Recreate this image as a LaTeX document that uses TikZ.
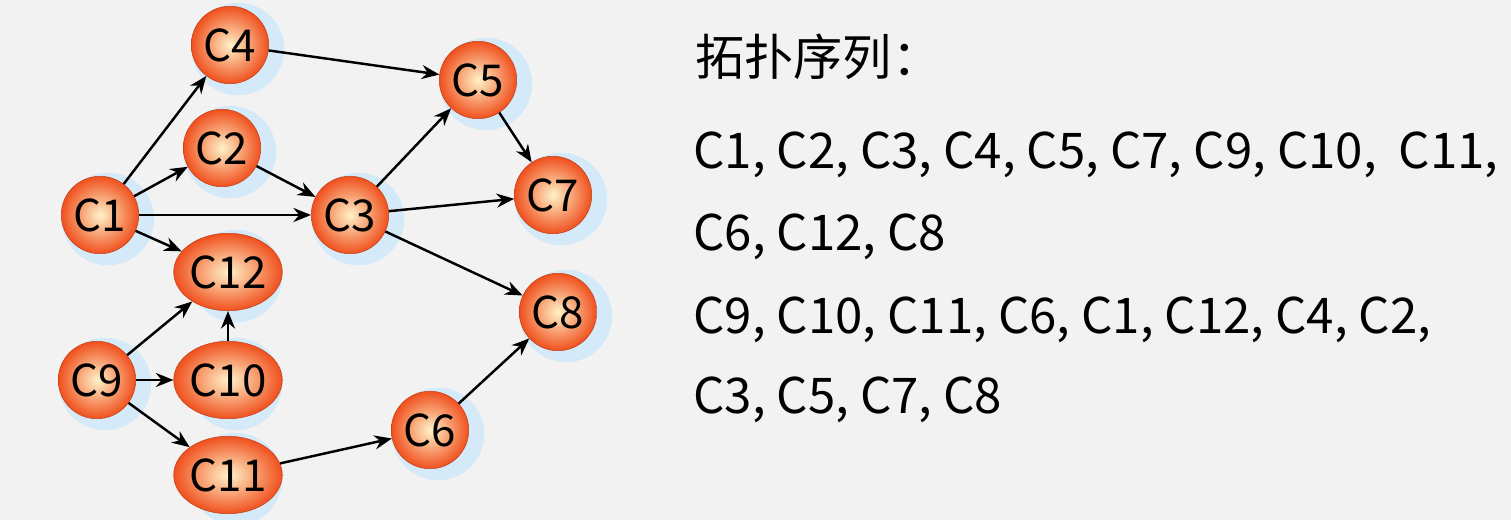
\documentclass[tikz,border=0pt]{standalone}
\usepackage{fontspec}
\setmainfont{Noto Sans CJK SC}
\usetikzlibrary{arrows.meta,shapes.geometric}
\definecolor{bg}{HTML}{F2F2F2}
\definecolor{glow}{HTML}{D4EAF8}
\definecolor{outer}{HTML}{F0501E}
\definecolor{inner}{HTML}{FFF2C8}
\tikzset{
  cnode/.style={ellipse,inner sep=0pt,minimum width=1.55cm,minimum height=1.55cm,inner color=inner,outer color=outer,
    draw=outer!80!black,line width=0.3pt,font=\fontsize{25}{25}\selectfont},
  glowc/.style={circle,fill=glow,minimum size=1.85cm,inner sep=0pt},
  edge/.style={-{Stealth[length=10pt,width=8pt]},line width=1.4pt,black},
  seq/.style={anchor=west,font=\fontsize{28}{28}\selectfont,inner sep=0pt}
}
\begin{document}
\begin{tikzpicture}[x=0.02cm,y=-0.02cm]
\fill[bg] (0,0) rectangle (1511,520);
\useasboundingbox (0,0) rectangle (1511,520);
\foreach \n/\x/\y in {C4/230/45,C5/478/80,C2/222/148,C1/100/215,C3/350/215,C7/553/195,C12/228/272,C8/558/312,C9/97/380,C10/228/380,C11/228/475,C6/430/430}{
  \node[glowc] at (\x+8,\y+4) {};
}
\foreach \n/\x/\y/\w in {C4/230/45/1.55,C5/478/80/1.55,C2/222/148/1.55,C1/100/215/1.55,C3/350/215/1.55,C7/553/195/1.55,C12/228/272/1.72,C8/558/312/1.55,C9/97/380/1.55,C10/228/380/1.7,C11/228/475/1.7,C6/430/430/1.55}{
  \node[cnode,minimum width=\w cm] (\n) at (\x,\y) {\n};
}
\foreach \a/\b in {C1/C4,C1/C2,C1/C3,C1/C12,C4/C5,C2/C3,C3/C5,C3/C7,C3/C8,C5/C7,C9/C12,C9/C10,C9/C11,C10/C12,C11/C6,C6/C8}{
  \draw[edge] (\a) -- (\b);
}
\node[seq] (t) at (695,57) {拓扑序列：};
\node[seq] (l1) at (693,155) {C1, C2, C3, C4, C5, C7, C9, C10,\ \ C11,};
\node[seq] (l2) at (693,237) {C6, C12, C8};
\node[seq] (l3) at (693,320) {C9, C10, C11, C6, C1, C12, C4, C2,};
\node[seq] (l4) at (693,400) {C3, C5, C7, C8};
\end{tikzpicture}
\end{document}
